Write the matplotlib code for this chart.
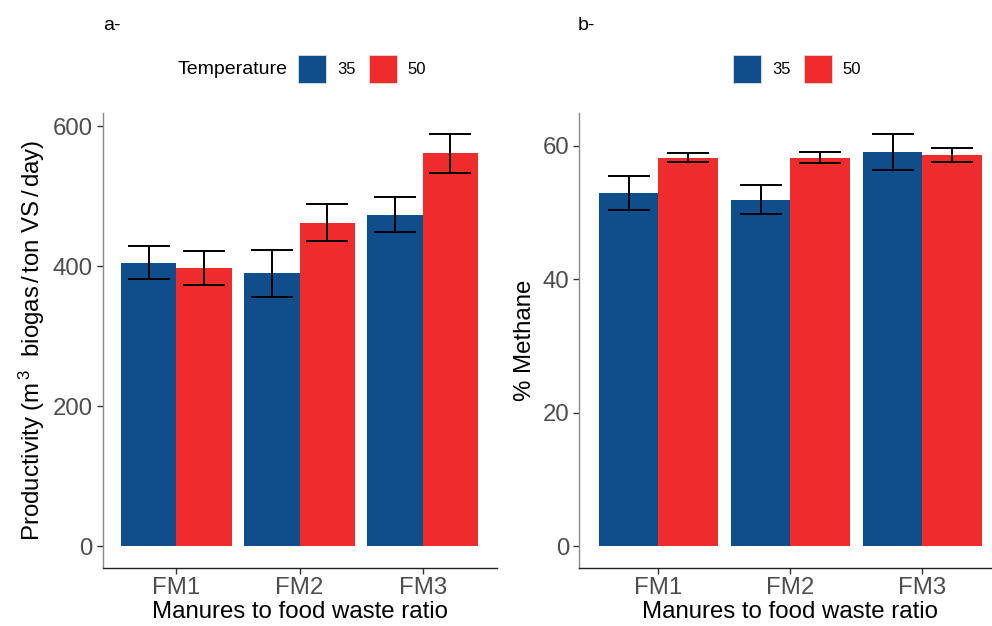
import matplotlib
matplotlib.use("Agg")
import matplotlib.pyplot as plt
from matplotlib.patches import Patch
import numpy as np

plt.rcParams['font.family'] = ['Liberation Sans', 'DejaVu Sans']
plt.rcParams['mathtext.fontset'] = 'custom'
plt.rcParams['mathtext.rm'] = 'Liberation Sans'
plt.rcParams['mathtext.it'] = 'Liberation Sans:italic'

categories = ["FM1", "FM2", "FM3"]
temps = ["35", "50"]

prod_35 = [405, 389.5, 473]
prod_50 = [397, 462, 561]
prod_err_35 = [24, 34, 25]
prod_err_50 = [24, 26.5, 27.5]

meth_35 = [52.9, 51.9, 59.1]
meth_50 = [58.2, 58.2, 58.6]
meth_err_35 = [2.5, 2.15, 2.7]
meth_err_50 = [0.65, 0.85, 1.1]

colors = ["#104E8B", "#EE2C2C"]

fig = plt.figure(figsize=(9.92, 6.26), dpi=100)
H = 626.0
W = 992.0
bottom = (H - 567.5) / H
height = (567.5 - 113) / H
ax1 = fig.add_axes([102.5 / W, bottom, (496.5 - 102.5) / W, height])
ax2 = fig.add_axes([579 / W, bottom, (1001.7 - 579) / W, height])

x = np.arange(1, len(categories) + 1)
bw = 0.45

def draw(ax, v35, v50, e35, e50):
    for i, (vals, errs) in enumerate([(v35, e35), (v50, e50)]):
        pos = x + (i - 0.5) * bw
        ax.bar(pos, vals, width=bw, color=colors[i], edgecolor='none', zorder=2)
        ax.errorbar(pos, vals, yerr=errs, fmt='none', ecolor='black',
                    elinewidth=1.4, capsize=15, capthick=1.4, zorder=3)
    ax.set_xlim(0.4, 3.6)
    ax.set_xticks(x)
    ax.set_xticklabels(categories)
    for s in ['top', 'right']:
        ax.spines[s].set_visible(False)
    ax.spines['left'].set_color('#8a8a8a')
    ax.spines['bottom'].set_color('#222222')
    ax.spines['left'].set_linewidth(1.0)
    ax.spines['bottom'].set_linewidth(1.0)
    ax.tick_params(axis='both', colors='#333333', labelcolor='#4D4D4D',
                   labelsize=17.3, length=4, width=1.0, pad=3)
    ax.set_xlabel("Manures to food waste ratio", fontsize=17.3, color='black', labelpad=1)

draw(ax1, prod_35, prod_50, prod_err_35, prod_err_50)
ax1.set_ylim(-30.7, 618.6)
ax1.set_yticks([0, 200, 400, 600])
ax1.set_ylabel("Productivity (m$^{\\,3}$  biogas$\\,$/$\\,$ton VS$\\,$/$\\,$day)", fontsize=17.3, labelpad=4)

draw(ax2, meth_35, meth_50, meth_err_35, meth_err_50)
ax2.set_ylim(-3.22, 64.9)
ax2.set_yticks([0, 20, 40, 60])
ax2.set_ylabel("% Methane", fontsize=17.3, labelpad=5)

handles = [Patch(facecolor=colors[0], edgecolor='#dddddd', linewidth=0.6, label=temps[0]),
           Patch(facecolor=colors[1], edgecolor='#dddddd', linewidth=0.6, label=temps[1])]
leg_kw = dict(ncol=2, frameon=False, fontsize=12, handlelength=1.68, handleheight=2.15,
              handletextpad=0.65, columnspacing=0.8, borderpad=0, borderaxespad=0,
              loc='center left')
fig.legend(handles=handles, bbox_to_anchor=(298 / W, 1 - 69 / H), **leg_kw)
fig.legend(handles=handles, bbox_to_anchor=(733 / W, 1 - 69 / H), **leg_kw)
fig.text(178 / W, 1 - 69 / H, "Temperature", fontsize=14, va='center', ha='left')

fig.text(103 / W, 1 - 25 / H, "a-", fontsize=14, va='center', ha='left')
fig.text(578 / W, 1 - 25 / H, "b-", fontsize=14, va='center', ha='left')

fig.savefig("out.png", dpi=100, facecolor='white')
